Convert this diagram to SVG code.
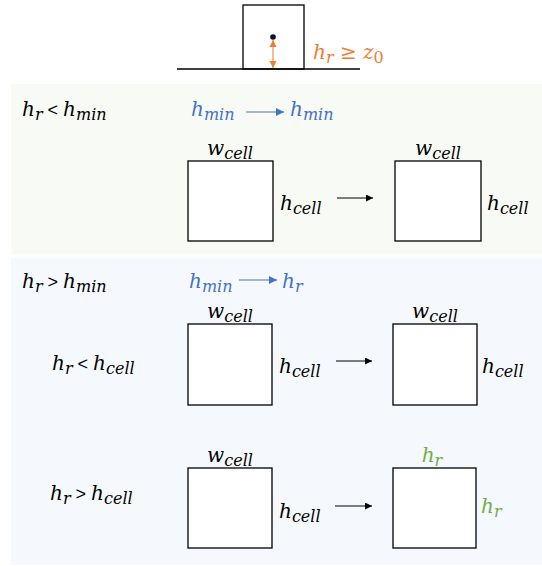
<svg xmlns="http://www.w3.org/2000/svg" width="542" height="566" viewBox="0 0 542 566">
<style>
.m{font-family:"DejaVu Serif","Liberation Serif",serif;font-style:italic;font-size:20px;fill:#000}
.s{font-size:16px}
.op{font-family:"Liberation Sans",sans-serif;font-style:normal;font-size:18px}
.blue{fill:#4472c4}
.green{fill:#70ad47}
.orange{fill:#ed7d31}
.cell{fill:#fff;stroke:#000;stroke-width:1.3}
.conn{stroke:#000;stroke-width:1;fill:none}
</style>
<defs>
<marker id="ah" viewBox="0 0 10 10" refX="10" refY="5" markerWidth="7" markerHeight="7" orient="auto" markerUnits="userSpaceOnUse"><path d="M0,0 L10,5 L0,10 z" fill="#000"/></marker>
<marker id="ahb" viewBox="0 0 10 10" refX="10" refY="5" markerWidth="8" markerHeight="8" orient="auto" markerUnits="userSpaceOnUse"><path d="M0,0 L10,5 L0,10 z" fill="#4472c4"/></marker>
<marker id="aho" viewBox="0 0 10 10" refX="10" refY="5" markerWidth="7" markerHeight="8" orient="auto-start-reverse" markerUnits="userSpaceOnUse"><path d="M0,0 L10,5 L0,10 z" fill="#ed7d31"/></marker>
</defs>
<rect x="0" y="0" width="542" height="566" fill="#fff"/>
<rect x="11" y="84" width="531" height="170" fill="#f8fbf5"/>
<rect x="11" y="258" width="531" height="307" fill="#f5f9fd"/>

<g id="top">
<line x1="177" y1="69" x2="360" y2="69" stroke="#000" stroke-width="1.3"/>
<rect x="243" y="5" width="61" height="64" fill="none" stroke="#000" stroke-width="1.3"/>
<circle cx="273" cy="37" r="2.8" fill="#0a1030"/>
<text class="m orange" x="313" y="59">h<tspan class="s" dy="4">r</tspan><tspan dy="-4" font-style="normal"> ≥ </tspan>z<tspan class="s" dy="4" font-style="normal">0</tspan></text>
</g>

<g id="case1-label">
<text class="m" x="22" y="116">h<tspan class="s" dy="4">r</tspan><tspan class="op" dy="-4"> &lt; </tspan>h<tspan class="s" dy="4">min</tspan></text>
<text class="m blue" x="191" y="116">h<tspan class="s" dy="4">min</tspan></text>
<text class="m blue" x="290" y="116">h<tspan class="s" dy="4">min</tspan></text>
</g>
<g id="case1-before">
<text class="m" x="230" y="155" text-anchor="middle">w<tspan class="s" dy="4">cell</tspan></text>
<rect class="cell" x="188" y="161" width="85" height="80"/>
<text class="m" x="280" y="210">h<tspan class="s" dy="4">cell</tspan></text>
</g>
<g id="case1-after">
<text class="m" x="438" y="155" text-anchor="middle">w<tspan class="s" dy="4">cell</tspan></text>
<rect class="cell" x="395" y="161" width="86" height="80"/>
<text class="m" x="487" y="210">h<tspan class="s" dy="4">cell</tspan></text>
</g>

<g id="case2-label">
<text class="m" x="22" y="288">h<tspan class="s" dy="4">r</tspan><tspan class="op" dy="-4"> &gt; </tspan>h<tspan class="s" dy="4">min</tspan></text>
<text class="m blue" x="189" y="288">h<tspan class="s" dy="4">min</tspan></text>
<text class="m blue" x="282" y="288">h<tspan class="s" dy="4">r</tspan></text>
</g>
<g id="case2a-label">
<text class="m" x="52" y="370">h<tspan class="s" dy="4">r</tspan><tspan class="op" dy="-4"> &lt; </tspan>h<tspan class="s" dy="4">cell</tspan></text>
</g>
<g id="case2a-before">
<text class="m" x="230" y="318" text-anchor="middle">w<tspan class="s" dy="4">cell</tspan></text>
<rect class="cell" x="188" y="324" width="84" height="81"/>
<text class="m" x="279" y="373">h<tspan class="s" dy="4">cell</tspan></text>
</g>
<g id="case2a-after">
<text class="m" x="435" y="318" text-anchor="middle">w<tspan class="s" dy="4">cell</tspan></text>
<rect class="cell" x="393" y="324" width="84" height="81"/>
<text class="m" x="482" y="373">h<tspan class="s" dy="4">cell</tspan></text>
</g>
<g id="case2b-label">
<text class="m" x="50" y="500">h<tspan class="s" dy="4">r</tspan><tspan class="op" dy="-4"> &gt; </tspan>h<tspan class="s" dy="4">cell</tspan></text>
</g>
<g id="case2b-before">
<text class="m" x="230" y="462" text-anchor="middle">w<tspan class="s" dy="4">cell</tspan></text>
<rect class="cell" x="188" y="468" width="84" height="80"/>
<text class="m" x="279" y="518">h<tspan class="s" dy="4">cell</tspan></text>
</g>
<g id="case2b-after">
<text class="m green" x="432" y="462" text-anchor="middle">h<tspan class="s" dy="4">r</tspan></text>
<rect class="cell" x="393" y="468" width="83" height="80"/>
<text class="m green" x="481" y="513">h<tspan class="s" dy="4">r</tspan></text>
</g>

<g id="connectors">
<line x1="273" y1="40" x2="273" y2="68" stroke="#ed7d31" stroke-width="1" marker-start="url(#aho)" marker-end="url(#aho)"/>
<line x1="246" y1="112" x2="284" y2="112" stroke="#4472c4" stroke-width="1.2" marker-end="url(#ahb)"/>
<line x1="239" y1="280" x2="277" y2="280" stroke="#4472c4" stroke-width="1.2" marker-end="url(#ahb)"/>
<line class="conn" x1="337" y1="198" x2="373" y2="198" marker-end="url(#ah)"/>
<line class="conn" x1="336" y1="361" x2="372" y2="361" marker-end="url(#ah)"/>
<line class="conn" x1="335" y1="506" x2="372" y2="506" marker-end="url(#ah)"/>
</g>
</svg>
